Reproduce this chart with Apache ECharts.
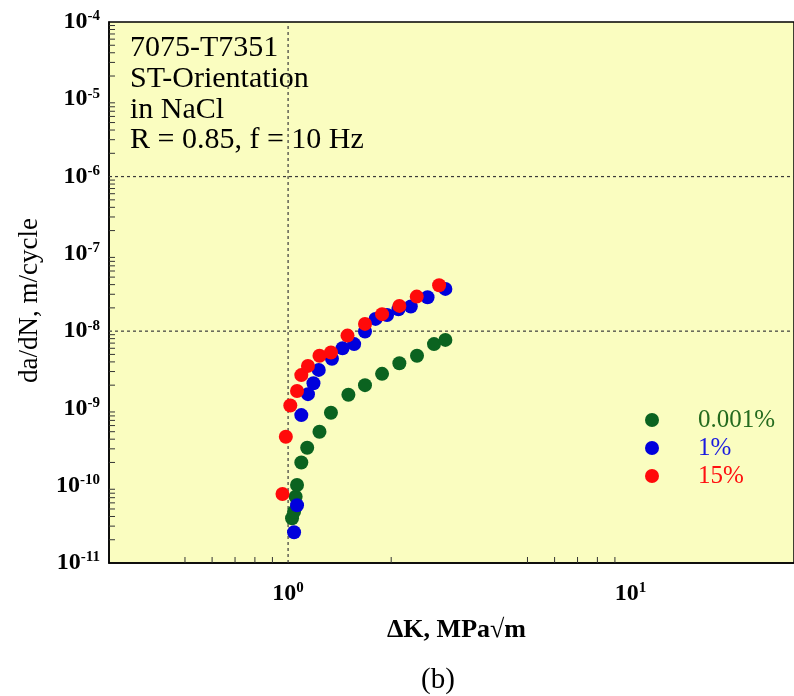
<!DOCTYPE html>
<html>
<head>
<meta charset="utf-8">
<title>7075-T7351 da/dN vs ΔK</title>
<script src="https://cdn.jsdelivr.net/npm/echarts@6/dist/echarts.min.js"></script>
<style>
  html, body { margin: 0; padding: 0; background: #ffffff; }
  #chart { width: 794px; height: 696px; }
</style>
</head>
<body>
<div id="chart"></div>
<script>
// Fatigue crack growth rate vs stress intensity range, three NaCl concentrations
const seriesNames = ['0.001%', '1%', '15%'];

// [ΔK (MPa√m), da/dN (m/cycle)]
const nacl0001 = [
  [1.027, 3.8e-11], [1.041, 4.6e-11], [1.052, 7.2e-11], [1.062, 1.02e-10],
  [1.093, 2.0e-10], [1.137, 3.1e-10], [1.235, 5.0e-10], [1.334, 8.8e-10],
  [1.50, 1.50e-9], [1.677, 2.0e-9], [1.881, 2.8e-9], [2.113, 3.85e-9],
  [2.379, 4.8e-9], [2.667, 6.8e-9], [2.879, 7.7e-9]
];
const nacl1 = [
  [1.041, 2.5e-11], [1.062, 5.6e-11], [1.093, 8.2e-10], [1.143, 1.53e-9],
  [1.186, 2.12e-9], [1.229, 3.15e-9], [1.343, 4.4e-9], [1.442, 6.0e-9],
  [1.559, 6.8e-9], [1.677, 9.9e-9], [1.80, 1.44e-8], [1.945, 1.62e-8],
  [2.10, 1.92e-8], [2.282, 2.08e-8], [2.554, 2.74e-8], [2.879, 3.52e-8]
];
const nacl15 = [
  [0.963, 7.8e-11], [0.985, 4.3e-10], [1.015, 1.09e-9], [1.062, 1.68e-9],
  [1.093, 2.7e-9], [1.143, 3.55e-9], [1.235, 4.8e-9], [1.334, 5.3e-9],
  [1.491, 8.75e-9], [1.677, 1.24e-8], [1.881, 1.66e-8], [2.113, 2.12e-8],
  [2.375, 2.8e-8], [2.76, 3.93e-8]
];

const seriesColors = ['#0b6320', '#0000dc', '#ff0a0a'];
const legendTextColors = ['#246b1f', '#1a1ae0', '#ff1010'];

// axis ranges and dashed reference lines
const xRange = [0.3, 30];
const yRange = [1e-11, 1e-4];
const xGridLines = [1];
const yGridLines = [1e-6, 1e-8];

// minor tick positions
const xMinorTicks = [0.5, 0.6, 0.7, 0.8, 0.9, 2, 5, 6, 7, 8, 9];
const yMinorMultipliers = [2, 3, 4, 5, 6, 7, 8, 9];
const yDecades = [-11, -10, -9, -8, -7, -6, -5];
const yMinorTicks = [];
yDecades.forEach(function (e) {
  yMinorMultipliers.forEach(function (m) { yMinorTicks.push(Number((m * Math.pow(10, e)).toPrecision(3))); });
});

const annotationLines = ['7075-T7351', 'ST-Orientation', 'in NaCl', 'R = 0.85, f = 10 Hz'];
const serif = '"Liberation Serif", "Times New Roman", serif';

function powLabel(v) {
  const e = Math.round(Math.log10(v));
  if (Math.abs(Math.log10(v) - e) > 1e-6) return '';
  return '{b|10}{s|' + e + '}';
}

const labelRich = {
  b: { fontFamily: serif, fontWeight: 'bold', fontSize: 24, color: '#000', lineHeight: 26 },
  s: { fontFamily: serif, fontWeight: 'bold', fontSize: 15, color: '#000', lineHeight: 26, verticalAlign: 'top', padding: [0, 0, 8, 0] }
};

const dashStyle = { stroke: '#3a3a3a', lineWidth: 1.2, lineDash: [3, 3] };

const chart = echarts.init(document.getElementById('chart'), null, { renderer: 'canvas' });

const option = {
  animation: false,
  backgroundColor: '#ffffff',
  grid: {
    left: 109, top: 22, width: 692, height: 541,
    show: true, backgroundColor: '#fafdc0', borderColor: '#000', borderWidth: 1.5
  },
  legend: {
    orient: 'vertical',
    left: 640, top: 401,
    itemWidth: 14, itemHeight: 14, itemGap: 0,
    icon: 'circle',
    textStyle: { fontFamily: serif, fontSize: 25, lineHeight: 28, padding: [0, 0, 0, 34] },
    data: seriesNames.map(function (n, i) {
      return { name: n, textStyle: { color: legendTextColors[i] } };
    })
  },
  xAxis: {
    type: 'log', logBase: 10, min: xRange[0], max: xRange[1],
    name: 'ΔK, MPa√m', nameLocation: 'middle', nameGap: 53,
    nameTextStyle: { fontFamily: serif, fontWeight: 'bold', fontSize: 26, color: '#000', lineHeight: 28, padding: [0, 0, 0, 10] },
    axisLine: { show: true, lineStyle: { color: '#000', width: 1.5 } },
    axisTick: { show: false },
    minorTick: { show: false },
    splitLine: { show: false },
    axisLabel: { margin: 18, formatter: powLabel, rich: labelRich, showMinLabel: false, showMaxLabel: false }
  },
  yAxis: {
    type: 'log', logBase: 10, min: yRange[0], max: yRange[1],
    name: 'da/dN, m/cycle', nameLocation: 'middle', nameGap: 66, nameRotate: 90,
    nameTextStyle: { fontFamily: serif, fontSize: 27, color: '#000', padding: [0, 16, 0, 0] },
    axisLine: { show: true, lineStyle: { color: '#000', width: 1.5 } },
    axisTick: { show: false },
    minorTick: { show: false },
    splitLine: { show: false },
    axisLabel: { margin: 9, formatter: powLabel, rich: labelRich }
  },
  graphic: [
    {
      type: 'text', left: 130, top: 33, silent: true,
      style: { text: annotationLines.join('\n'), font: '30px ' + serif, fill: '#000', lineHeight: 30.7 }
    },
    {
      type: 'text', left: 421, top: 666, silent: true,
      style: { text: '(b)', font: '29px ' + serif, fill: '#000' }
    }
  ],
  series: [
    {
      name: 'gridLines', type: 'custom', silent: true, z: 1,
      data: xGridLines.map(function (v) { return [v, 0]; })
        .concat(yGridLines.map(function (v) { return [v, 1]; })),
      renderItem: function (params, api) {
        const v = api.value(0);
        let a, b;
        if (api.value(1) === 0) {
          a = api.coord([v, yRange[0]]); b = api.coord([v, yRange[1]]);
        } else {
          a = api.coord([xRange[0], v]); b = api.coord([xRange[1], v]);
        }
        return { type: 'line', shape: { x1: a[0], y1: a[1], x2: b[0], y2: b[1] }, style: dashStyle };
      },
      encode: { x: -1, y: -1 }
    },
    {
      name: 'xMinorTicks', type: 'custom', silent: true, z: 1,
      data: xMinorTicks.map(function (v) { return [v, yRange[0]]; }),
      renderItem: function (params, api) {
        const p = api.coord([api.value(0), api.value(1)]);
        return { type: 'line', shape: { x1: p[0], y1: p[1], x2: p[0], y2: p[1] - 6 }, style: { stroke: '#333', lineWidth: 1 } };
      }
    },
    {
      name: 'yMinorTicks', type: 'custom', silent: true, z: 1,
      data: yMinorTicks.map(function (v) { return [xRange[0], v]; }),
      renderItem: function (params, api) {
        const p = api.coord([api.value(0), api.value(1)]);
        return { type: 'line', shape: { x1: p[0], y1: p[1], x2: p[0] + 6, y2: p[1] }, style: { stroke: '#333', lineWidth: 1 } };
      }
    },
    {
      name: seriesNames[0], type: 'scatter', symbol: 'circle', symbolSize: 14, z: 3,
      itemStyle: { color: seriesColors[0], opacity: 1 },
      data: nacl0001
    },
    {
      name: seriesNames[1], type: 'scatter', symbol: 'circle', symbolSize: 14, z: 4,
      itemStyle: { color: seriesColors[1], opacity: 1 },
      data: nacl1
    },
    {
      name: seriesNames[2], type: 'scatter', symbol: 'circle', symbolSize: 14, z: 5,
      itemStyle: { color: seriesColors[2], opacity: 1 },
      data: nacl15
    }
  ]
};

chart.setOption(option);
</script>
</body>
</html>
